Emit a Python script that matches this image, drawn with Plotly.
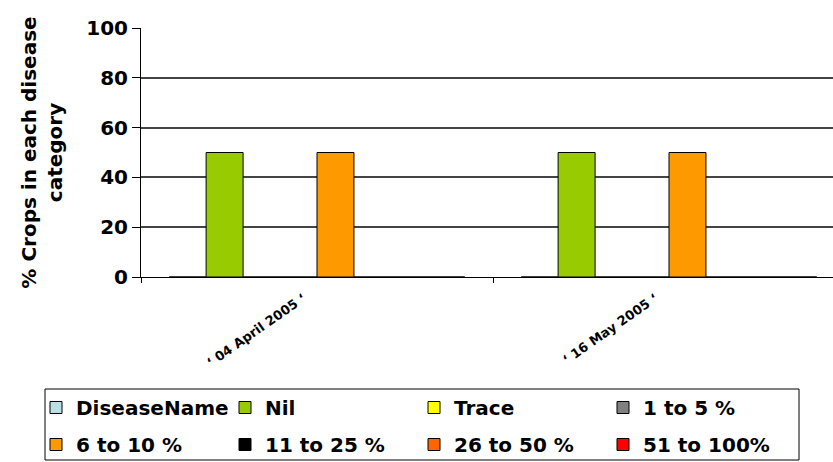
import plotly.graph_objects as go

# Sampling dates (x categories)
dates = ["‘ 04 April 2005 ‘", "‘ 16 May 2005 ‘"]

# Disease severity categories and their colours
categories = ["DiseaseName", "Nil", "Trace", "1 to 5 %", "6 to 10 %",
              "11 to 25 %", "26 to 50 %", "51 to 100%"]
colors = ["#BBE0E3", "#99CC00", "#FFFF00", "#808080", "#FF9900",
          "#000000", "#FF6600", "#FF0000"]

# % of crops in each category, per date
disease_name = [0, 0]
nil = [50, 50]
trace = [0, 0]
pct_1_5 = [0, 0]
pct_6_10 = [50, 50]
pct_11_25 = [0, 0]
pct_26_50 = [0, 0]
pct_51_100 = [0, 0]

series = [disease_name, nil, trace, pct_1_5, pct_6_10, pct_11_25, pct_26_50, pct_51_100]

FONT = "DejaVu Sans"

W, H = 833, 462
L, R, T, B = 141, 0, 28, 185
pw, ph = W - L - R, H - T - B


def px_x(x):
    return (x - L) / pw


def px_y(y):
    return (T + ph - y) / ph


fig = go.Figure()
for i, (name, color, vals) in enumerate(zip(categories, colors, series)):
    fig.add_trace(go.Bar(
        x=dates, y=vals, name=name,
        marker=dict(color=color, line=dict(color="#000000", width=1)),
        # first four entries on the top legend row, the rest below
        legend="legend" if i < 4 else "legend2",
    ))

legend_common = dict(
    orientation="h", xanchor="left", yanchor="top",
    font=dict(family=FONT, size=20, weight="bold"),
    borderwidth=0, bgcolor="rgba(0,0,0,0)",
    entrywidth=144, entrywidthmode="pixels",
    traceorder="normal",
)

fig.update_layout(
    width=W, height=H,
    margin=dict(l=L, r=R, t=T, b=B, autoexpand=False),
    paper_bgcolor="white", plot_bgcolor="white",
    barmode="group", bargap=0.16, bargroupgap=0.0,
    font=dict(family=FONT, color="#000000", size=20),
    legend=dict(legend_common, x=px_x(36), y=px_y(388)),
    legend2=dict(legend_common, x=px_x(36), y=px_y(425)),
    xaxis=dict(
        type="category",
        range=[-0.5, -0.5 + pw / 352],
        showline=True, linecolor="#000000", linewidth=1,
        ticks="outside", tickson="boundaries", ticklen=5, tickcolor="#000000",
        tickangle=-35, ticklabelstandoff=8, ticklabelshift=-14,
        tickfont=dict(family=FONT, size=13, weight="bold"),
        showgrid=False, automargin=False,
    ),
    yaxis=dict(
        range=[0, 100], dtick=20,
        showline=True, linecolor="#000000", linewidth=1,
        ticks="outside", ticklen=8, tickcolor="#000000",
        tickfont=dict(family=FONT, size=20, weight="bold"),
        showgrid=True, gridcolor="#444444", gridwidth=1.5,
        zeroline=False, automargin=False,
        title=dict(text="% Crops in each disease<br>category",
                   font=dict(family=FONT, size=20, weight="bold"),
                   standoff=18),
    ),
    # frame around the two legend rows
    shapes=[dict(type="rect", xref="paper", yref="paper",
                 x0=px_x(45), x1=px_x(799), y0=px_y(460), y1=px_y(389),
                 line=dict(color="#000000", width=1), fillcolor="rgba(0,0,0,0)")],
)

fig.write_html("out.html")
